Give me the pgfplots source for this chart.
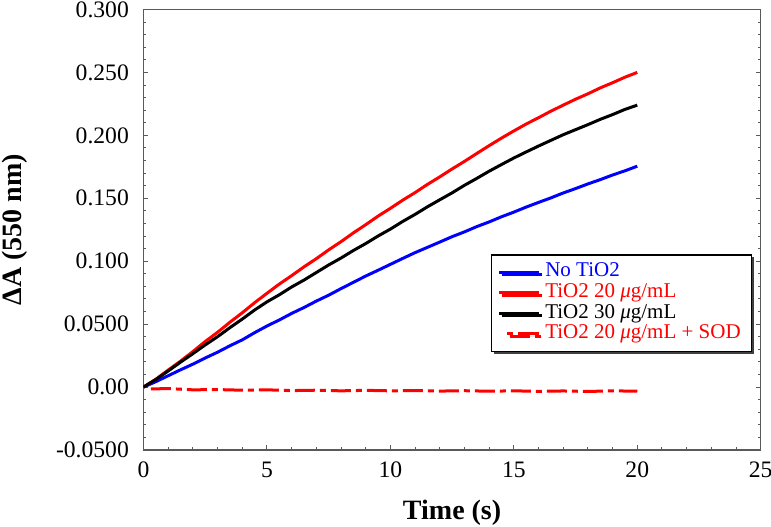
\documentclass[border=0pt]{standalone}
\usepackage{fontspec}
\setmainfont{Liberation Serif}
\usepackage{pgfplots}
\pgfplotsset{compat=1.18}
\usetikzlibrary{shadows}
\definecolor{axgray}{RGB}{90,90,90}
\pgfplotstableread{
x y
0 0
0.5 0.0043
1 0.0090
1.5 0.0137
2 0.0182
2.5 0.0231
3 0.0277
3.5 0.0328
4 0.0375
4.5 0.0432
5 0.0485
5.5 0.0533
6 0.0585
6.5 0.0632
7 0.0683
7.5 0.0730
8 0.0782
8.5 0.0832
9 0.0882
9.5 0.0928
10 0.0975
10.5 0.1022
11 0.1068
11.5 0.1110
12 0.1152
12.5 0.1195
13 0.1233
13.5 0.1275
14 0.1312
14.5 0.1353
15 0.1390
15.5 0.1430
16 0.1467
16.5 0.1503
17 0.1542
17.5 0.1577
18 0.1614
18.5 0.1648
19 0.1685
19.5 0.1718
20 0.1755
}\tblue
\pgfplotstableread{
x y
0 0
0.5 0.0062
1 0.0135
1.5 0.0206
2 0.0282
2.5 0.0362
3 0.0435
3.5 0.0515
4 0.0590
4.5 0.0670
5 0.0745
5.5 0.0818
6 0.0885
6.5 0.0955
7 0.1020
7.5 0.1090
8 0.1155
8.5 0.1225
9 0.1290
9.5 0.1358
10 0.1420
10.5 0.1485
11 0.1545
11.5 0.1610
12 0.1670
12.5 0.1733
13 0.1793
13.5 0.1856
14 0.1918
14.5 0.1978
15 0.2035
15.5 0.2090
16 0.2140
16.5 0.2192
17 0.2240
17.5 0.2287
18 0.2330
18.5 0.2377
19 0.2418
19.5 0.2462
20 0.2500
}\tred
\pgfplotstableread{
x y
0 0
0.5 0.0060
1 0.0128
1.5 0.0198
2 0.0265
2.5 0.0335
3 0.0400
3.5 0.0472
4 0.0540
4.5 0.0612
5 0.0677
5.5 0.0733
6 0.0795
6.5 0.0850
7 0.0910
7.5 0.0970
8 0.1025
8.5 0.1085
9 0.1140
9.5 0.1200
10 0.1255
10.5 0.1316
11 0.1372
11.5 0.1432
12 0.1488
12.5 0.1543
13 0.1603
13.5 0.1658
14 0.1715
14.5 0.1768
15 0.1820
15.5 0.1868
16 0.1915
16.5 0.1960
17 0.2005
17.5 0.2045
18 0.2085
18.5 0.2127
19 0.2165
19.5 0.2206
20 0.2240
}\tblack
\pgfplotstableread{
x y
0.3 -0.0015
1 -0.0012
2 -0.0022
3 -0.0020
4 -0.0025
5 -0.0022
6 -0.0028
7 -0.0025
8 -0.0030
9 -0.0026
10 -0.0030
11 -0.0028
12 -0.0032
13 -0.0029
14 -0.0033
15 -0.0030
16 -0.0034
17 -0.0031
18 -0.0035
19 -0.0030
20 -0.0033
}\tsod
\begin{document}
\begin{tikzpicture}
\begin{axis}[
  width=308.6pt, height=220.25pt, scale only axis,
  xmin=0, xmax=25, ymin=-0.05, ymax=0.3,
  xtick={0,5,...,25}, minor x tick num=4,
  ytick={-0.05,0,0.05,0.1,0.15,0.2,0.25,0.3},
  yticklabels={-0.0500,0.00,0.0500,0.100,0.150,0.200,0.250,0.300},
  minor y tick num=4,
  xtick pos=left, ytick pos=both, yticklabel pos=left,
  tick align=inside,
  major tick length=2.5pt, minor tick length=1.5pt,
  axis line style={axgray, line width=0.6pt},
  every tick/.style={axgray, line width=0.5pt},
  /pgf/number format/assume math mode=true,
  ticklabel style={font=\fontsize{11.8}{14}\selectfont},
  yticklabel style={xshift=-3.8pt},
  xticklabel style={yshift=-2.4pt},
  xlabel={\textbf{Time (s)}},
  ylabel={\textbf{ΔA (550 nm)}},
  label style={font=\fontsize{14}{16}\selectfont},
  xlabel style={at={(axis description cs:0.5,-0.143)}, anchor=center},
  ylabel style={at={(axis description cs:-0.2082,0.5)}, anchor=center},
  legend cell align=left,
  legend style={at={(0.986,0.2225)}, anchor=south east,
    draw=black, line width=0.7pt, fill=white,
    drop shadow={shadow xshift=1.2pt, shadow yshift=-1.2pt, fill=black!75, opacity=1},
    font=\fontsize{10.5}{12}\selectfont,
    inner xsep=3pt, inner ysep=3.5pt, row sep=0pt,
    nodes={inner xsep=2.3pt, inner ysep=0.7pt, text height=6.8pt, text depth=2.1pt}},
  legend image code/.code={\draw[#1] (0pt,0pt) -- (20pt,0pt);},
]
\addplot[blue, line width=1.5pt] table[x=x,y=y] {\tblue};
\addlegendentry{\textcolor{blue}{No TiO2}}
\addplot[red, line width=1.5pt] table[x=x,y=y] {\tred};
\addlegendentry{\textcolor{red}{TiO2 20 \textit{μ}g/mL}}
\addplot[black, line width=1.5pt] table[x=x,y=y] {\tblack};
\addlegendentry{TiO2 30 \textit{μ}g/mL}
\addplot[red, line width=1.5pt, dash pattern=on 10pt off 2.5pt on 3pt off 2.5pt,
  legend image code/.code={\draw[red, line width=1.5pt, dash pattern=on 3pt off 2.5pt on 20pt off 2pt] (4pt,0pt) -- (20pt,0pt);}] table[x=x,y=y] {\tsod};
\addlegendentry{\textcolor{red}{TiO2 20 \textit{μ}g/mL + SOD}}
\coordinate (bl) at (rel axis cs:0,0);
\coordinate (tr) at (rel axis cs:1,1);
\end{axis}
\pgfresetboundingbox
\path[use as bounding box] ([xshift=-71.75pt,yshift=-38.5pt]bl) rectangle ([xshift=5.15pt,yshift=4.75pt]tr);
\end{tikzpicture}
\end{document}
